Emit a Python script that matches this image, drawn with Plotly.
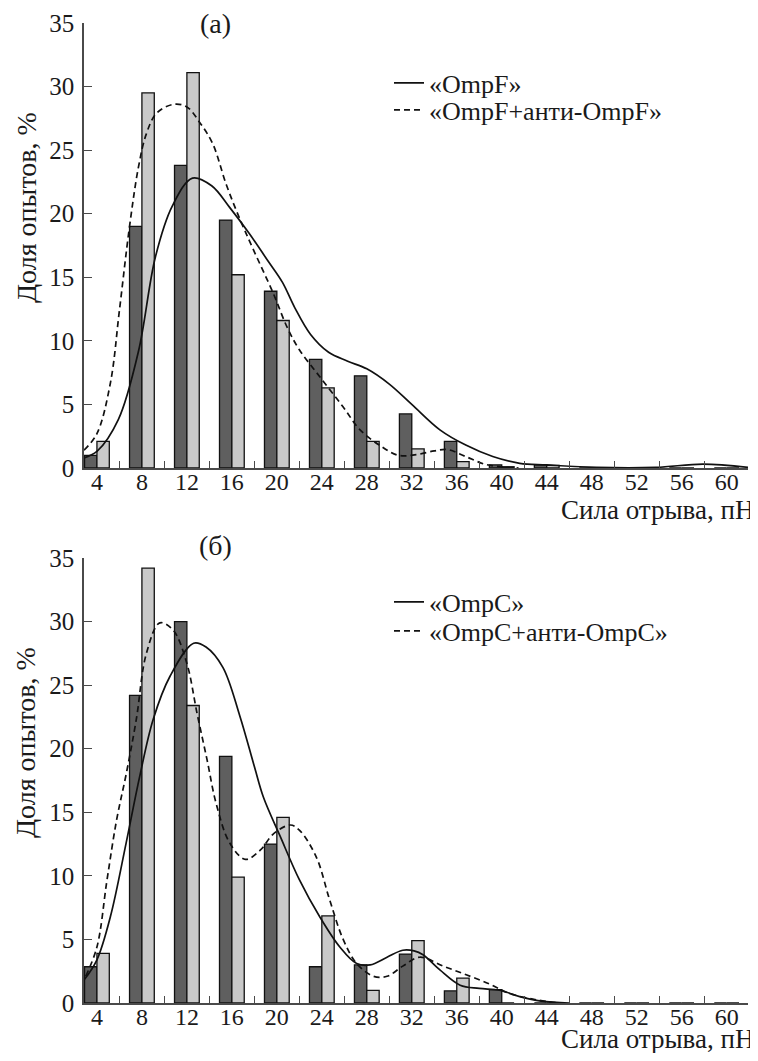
import plotly.graph_objects as go

# ---- data ----
categories = [4, 8, 12, 16, 20, 24, 28, 32, 36, 40, 44, 48, 52, 56, 60]

ompf_bars = [1.0, 19.0, 23.8, 19.5, 13.9, 8.55, 7.25, 4.25, 2.1, 0.25, 0.25, 0, 0, 0, 0]
ompf_anti_bars = [2.1, 29.5, 31.1, 15.2, 11.6, 6.3, 2.1, 1.5, 0.5, 0.1, 0.2, 0, 0, 0, 0]

ompc_bars = [2.85, 24.2, 30.0, 19.4, 12.5, 2.85, 3.0, 3.85, 0.95, 1.05, 0, 0, 0, 0, 0]
ompc_anti_bars = [3.9, 34.2, 23.4, 9.9, 14.6, 6.85, 1.0, 4.9, 1.95, 0, 0, 0, 0, 0, 0]

ompf_curve_x = [2.85, 4.0, 5.9, 7.7, 9.2, 10.7, 12.5, 14.2, 15.8, 17.5, 19.2, 20.5, 21.6, 23.0, 24.6,
                26.3, 28.0, 30.0, 32.0, 34.5, 36.8, 39.2, 41.6, 44.0, 48.4, 53.7, 57.9, 61.9]
ompf_curve_y = [0.8, 1.3, 3.8, 9.2, 16.6, 20.6, 22.8, 22.2, 20.5, 18.5, 16.3, 14.6, 12.6, 10.5, 9.1,
                8.4, 7.8, 6.6, 5.0, 3.0, 1.8, 0.9, 0.37, 0.24, 0.05, 0.05, 0.3, 0.05]

ompf_anti_curve_x = [2.85, 4.0, 5.2, 6.0, 6.9, 7.7, 8.4, 9.3, 10.8, 12.0, 13.2, 14.3, 15.5, 16.7,
                     17.9, 19.7, 20.9, 22.0, 23.8, 25.9, 27.4, 29.2, 30.8, 32.4, 34.0, 35.2, 36.8,
                     38.5, 40.3, 41.5]
ompf_anti_curve_y = [1.4, 2.7, 6.7, 12.4, 19.0, 23.7, 26.3, 27.9, 28.6, 28.4, 27.1, 25.5, 22.3, 19.6,
                     17.2, 13.7, 11.1, 9.3, 7.2, 4.8, 3.0, 1.75, 1.0, 1.05, 1.35, 1.45, 0.9,
                     0.3, 0.05, 0.0]

ompc_curve_x = [2.85, 4.0, 5.2, 6.6, 7.8, 9.0, 10.5, 12.6, 13.7, 15.2, 16.7, 18.0, 18.8, 20.3, 22.0,
                23.8, 25.6, 27.1, 28.3, 29.8, 31.2, 32.2, 33.0, 34.5, 36.3, 38.0, 39.8, 41.6, 43.5, 46.0]
ompc_curve_y = [1.8, 3.4, 6.8, 12.6, 17.8, 22.3, 25.7, 28.3, 28.0, 26.4, 22.6, 18.6, 16.2, 13.1, 9.7,
                6.8, 4.4, 3.1, 3.0, 3.6, 4.15, 4.1, 3.8, 2.6, 1.4, 1.15, 1.0, 0.5, 0.15, 0.0]

ompc_anti_curve_x = [3.0, 4.0, 4.9, 5.75, 6.6, 7.5, 8.4, 9.6, 10.8, 12.0, 12.9, 13.8, 14.6, 15.8,
                     17.2, 18.5, 19.7, 21.2, 22.0, 23.5, 24.7, 25.9, 27.1, 28.6, 29.8, 31.2, 32.7,
                     34.8, 36.9, 38.9, 40.7, 43.1, 45.0]
ompc_anti_curve_y = [2.1, 4.4, 9.7, 14.4, 18.0, 22.3, 27.5, 29.9, 29.3, 26.7, 22.8, 19.1, 15.7, 12.6,
                     11.3, 12.0, 13.3, 14.0, 13.6, 11.5, 8.1, 5.0, 3.1, 2.1, 2.1, 2.9, 3.6,
                     2.9, 2.2, 1.5, 0.75, 0.25, 0.0]

tick_labels = [str(c) for c in categories]
minor_ticks = [6, 10, 14, 18, 22, 26, 30, 34, 38, 42, 46, 50, 54, 58, 62]
y_ticks = [0, 5, 10, 15, 20, 25, 30, 35]

legend_top = ["«OmpF»", "«OmpF+анти-OmpF»"]
legend_bot = ["«OmpC»", "«OmpC+анти-OmpC»"]

# ---- styles ----
FONT = "Liberation Serif"
TXT = "#1a1a1a"
AX = "#4a4a4a"
DARK = "#5f5f5f"
LIGHT = "#c9c9c9"
BW = 1.1
PAGE_PAD = 8  # browser body margin

# reference page coords: plot area x 84..748, y 23..1003
PL, PR, PT, PB = 84, 748, 23, 1003
PW, PH = PR - PL, PB - PT
FIG_W = 758 - PAGE_PAD
FIG_H = 1061 - 2 * PAGE_PAD   # keep the page free of a vertical scrollbar


def px_x(p):
    return (p - PL) / PW


def px_y(p):
    return (PB - p) / PH


fig = go.Figure()


def add_panel(xa, ya, dark, light, cx1, cy1, cx2, cy2, names, legends):
    fig.add_trace(go.Bar(x=categories, y=dark, width=BW, offset=-BW, xaxis=xa, yaxis=ya,
                         marker=dict(color=DARK, line=dict(color="#111", width=1.3)),
                         showlegend=False, hoverinfo="skip"))
    fig.add_trace(go.Bar(x=categories, y=light, width=BW, offset=0, xaxis=xa, yaxis=ya,
                         marker=dict(color=LIGHT, line=dict(color="#111", width=1.3)),
                         showlegend=False, hoverinfo="skip"))
    fig.add_trace(go.Scatter(x=cx1, y=cy1, mode="lines", xaxis=xa, yaxis=ya, name=names[0],
                             line=dict(color="#111", width=1.7, shape="spline", smoothing=1.0),
                             legend=legends[0]))
    fig.add_trace(go.Scatter(x=cx2, y=cy2, mode="lines", xaxis=xa, yaxis=ya, name=names[1],
                             line=dict(color="#111", width=1.7, dash="6px,4px", shape="spline",
                                       smoothing=1.0),
                             legend=legends[1]))


add_panel("x", "y", ompf_bars, ompf_anti_bars, ompf_curve_x, ompf_curve_y,
          ompf_anti_curve_x, ompf_anti_curve_y, legend_top, ["legend", "legend2"])
add_panel("x2", "y2", ompc_bars, ompc_anti_bars, ompc_curve_x, ompc_curve_y,
          ompc_anti_curve_x, ompc_anti_curve_y, legend_bot, ["legend3", "legend4"])

xaxis_common = dict(range=[2.85, 61.9], tickmode="array", tickvals=categories, ticktext=tick_labels,
                    ticks="outside", ticklen=0, tickwidth=0, showline=True, linecolor=AX,
                    linewidth=1.5, showgrid=False, zeroline=False, automargin=False,
                    ticklabelstandoff=-9,
                    tickfont=dict(family=FONT, size=24, color=TXT),
                    minor=dict(tickmode="array", tickvals=minor_ticks, ticks="inside", ticklen=7,
                               tickcolor=AX, tickwidth=1.3, showgrid=False))
yaxis_common = dict(range=[0, 35], tickmode="array", tickvals=y_ticks, ticks="inside", ticklen=8,
                    tickcolor=AX, tickwidth=1.3, showline=True, linecolor=AX, linewidth=1.5,
                    showgrid=False, zeroline=False, ticklabelstandoff=3, automargin=False,
                    tickfont=dict(family=FONT, size=25, color=TXT))


def leg(ypix):
    return dict(x=px_x(389), y=px_y(ypix), xanchor="left", yanchor="middle",
                bgcolor="rgba(0,0,0,0)", font=dict(family=FONT, size=26, color=TXT))


fig.update_layout(
    width=FIG_W, height=FIG_H,
    margin=dict(l=PL - PAGE_PAD, r=758 - PR, t=PT - PAGE_PAD, b=FIG_H - (PB - PAGE_PAD)),
    paper_bgcolor="white", plot_bgcolor="white",
    barmode="overlay",
    xaxis=dict(domain=[0, 1], anchor="y", **xaxis_common),
    yaxis=dict(domain=[px_y(468), 1], anchor="x", **yaxis_common),
    xaxis2=dict(domain=[0, 1], anchor="y2", **xaxis_common),
    yaxis2=dict(domain=[0, px_y(558)], anchor="x2", **yaxis_common),
    legend=leg(83), legend2=leg(110), legend3=leg(602), legend4=leg(631),
    showlegend=True,
)

for text, x0, y0 in [("(a)", 215, 23), ("(б)", 215, 545)]:
    fig.add_annotation(text=text, xref="paper", yref="paper", x=px_x(x0), y=px_y(y0),
                       showarrow=False, font=dict(family=FONT, size=28, color=TXT),
                       xanchor="center", yanchor="middle")

for yc, yl in [(510, 208), (1039, 743)]:
    fig.add_annotation(text="Сила отрыва, пН", xref="paper", yref="paper",
                       x=px_x(756), y=px_y(yc), xanchor="right", yanchor="middle",
                       showarrow=False, font=dict(family=FONT, size=27, color=TXT))
    fig.add_annotation(text="Доля опытов, %", xref="paper", yref="paper",
                       x=px_x(26), y=px_y(yl), xanchor="center", yanchor="middle",
                       textangle=-90, showarrow=False, font=dict(family=FONT, size=28, color=TXT))

fig.write_html("out.html")
